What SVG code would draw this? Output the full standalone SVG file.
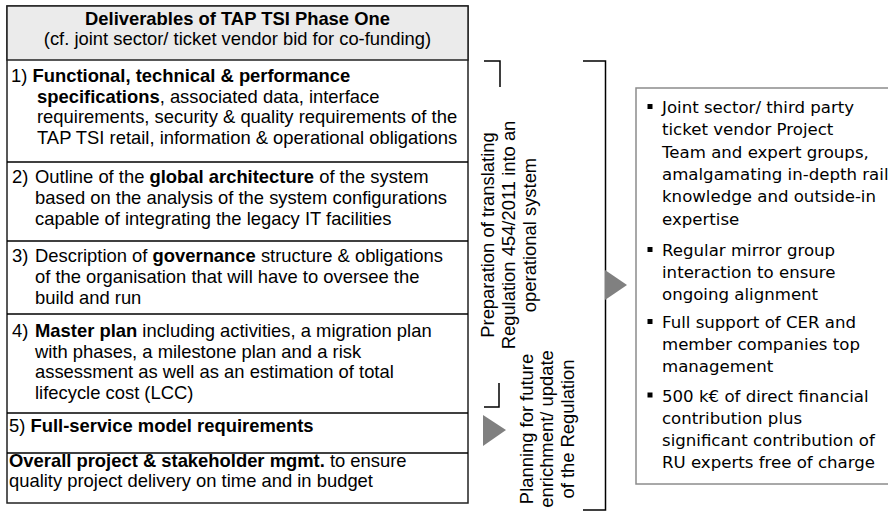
<svg xmlns="http://www.w3.org/2000/svg" width="888" height="512" viewBox="0 0 888 512">
<style>
.t{font-family:"Liberation Sans",Arial,sans-serif;font-size:18.4px;fill:#000}
.b{font-weight:bold}
.r{font-family:"DejaVu Sans",Verdana,sans-serif;font-size:16.6px;fill:#000}
.box{fill:#fff;stroke:#222;stroke-width:1.5}
.ln{fill:none;stroke:#000;stroke-width:1.5}
.tri{fill:#808080}
.bul{fill:#000}
</style>
<rect width="888" height="512" fill="#fff"/>
<g id="deliverables">
<rect x="7" y="6" width="461" height="497" class="box"/>
<rect x="7" y="6" width="461" height="54" fill="#ebebeb" stroke="#222" stroke-width="1.5"/>
<text class="t b" x="237.5" y="25" text-anchor="middle">Deliverables of TAP TSI Phase One</text>
<text class="t" x="237.5" y="44.5" text-anchor="middle">(cf. joint sector/ ticket vendor bid for co-funding)</text>
</g>
<g id="row1">
<text class="t" x="11" y="82">1) <tspan class="b">Functional, technical &amp; performance</tspan></text>
<text class="t" x="37" y="102.5"><tspan class="b">specifications</tspan>, associated data, interface</text>
<text class="t" x="37" y="123">requirements, security &amp; quality requirements of the</text>
<text class="t" x="37" y="143.5">TAP TSI retail, information &amp; operational obligations</text>
</g>
<g id="row2">
<line x1="7" y1="162" x2="468" y2="162" class="ln"/>
<text class="t" x="12" y="183">2)</text>
<text class="t" x="35" y="183">Outline of the <tspan class="b">global architecture</tspan> of the system</text>
<text class="t" x="35" y="204">based on the analysis of the system configurations</text>
<text class="t" x="35" y="225">capable of integrating the legacy IT facilities</text>
</g>
<g id="row3">
<line x1="7" y1="241" x2="468" y2="241" class="ln"/>
<text class="t" x="12" y="262">3)</text>
<text class="t" x="35" y="262">Description of <tspan class="b">governance</tspan> structure &amp; obligations</text>
<text class="t" x="35" y="283">of the organisation that will have to oversee the</text>
<text class="t" x="35" y="304">build and run</text>
</g>
<g id="row4">
<line x1="7" y1="314" x2="468" y2="314" class="ln"/>
<text class="t" x="12" y="337">4)</text>
<text class="t" x="35" y="337"><tspan class="b">Master plan</tspan> including activities, a migration plan</text>
<text class="t" x="35" y="357.5">with phases, a milestone plan and a risk</text>
<text class="t" x="35" y="378">assessment as well as an estimation of total</text>
<text class="t" x="35" y="398.5">lifecycle cost (LCC)</text>
</g>
<g id="row5">
<line x1="7" y1="413" x2="468" y2="413" class="ln"/>
<text class="t" x="9" y="432">5) <tspan class="b">Full-service model requirements</tspan></text>
</g>
<g id="row6">
<line x1="7" y1="453" x2="468" y2="453" class="ln"/>
<text class="t" x="9" y="467"><tspan class="b">Overall project &amp; stakeholder mgmt.</tspan> to ensure</text>
<text class="t" x="9" y="487">quality project delivery on time and in budget</text>
</g>
<g id="preparation">
<text class="t" text-anchor="middle" transform="translate(494 235) rotate(-90)">Preparation of translating</text>
<text class="t" text-anchor="middle" transform="translate(515 235) rotate(-90)">Regulation 454/2011 into an</text>
<text class="t" text-anchor="middle" transform="translate(536 235) rotate(-90)">operational system</text>
</g>
<g id="planning">
<text class="t" text-anchor="middle" transform="translate(533 429) rotate(-90)">Planning for future</text>
<text class="t" text-anchor="middle" transform="translate(553 429) rotate(-90)">enrichment/ update</text>
<text class="t" text-anchor="middle" transform="translate(574 429) rotate(-90)">of the Regulation</text>
</g>
<g id="resources">
<rect x="636" y="88" width="260" height="396" fill="#fff" stroke="#8c8c8c" stroke-width="1.5"/>
<rect x="647.5" y="104" width="5" height="5" class="bul"/>
<text class="r" x="662" y="113">Joint sector/ third party</text>
<text class="r" x="662" y="135.3">ticket vendor Project</text>
<text class="r" x="662" y="157.6">Team and expert groups,</text>
<text class="r" x="662" y="179.9">amalgamating in-depth rail</text>
<text class="r" x="662" y="202.2">knowledge and outside-in</text>
<text class="r" x="662" y="224.5">expertise</text>
<rect x="647.5" y="247" width="5" height="5" class="bul"/>
<text class="r" x="662" y="256">Regular mirror group</text>
<text class="r" x="662" y="278">interaction to ensure</text>
<text class="r" x="662" y="300">ongoing alignment</text>
<rect x="647.5" y="319" width="5" height="5" class="bul"/>
<text class="r" x="662" y="328">Full support of CER and</text>
<text class="r" x="662" y="350">member companies top</text>
<text class="r" x="662" y="372">management</text>
<rect x="647.5" y="392.5" width="5" height="5" class="bul"/>
<text class="r" x="662" y="401.5">500 k€ of direct financial</text>
<text class="r" x="662" y="423.5">contribution plus</text>
<text class="r" x="662" y="445.5">significant contribution of</text>
<text class="r" x="662" y="467.5">RU experts free of charge</text>
</g>
<g id="connectors">
<polyline points="484,61 500,61 500,87" class="ln"/>
<polyline points="499,383 499,407 484,407" class="ln"/>
<polygon points="483,415 506,430 483,446" class="tri"/>
<polyline points="583,61 605.5,61 605.5,510 583,510" class="ln"/>
<polygon points="605,270 627,285 605,300" class="tri"/>
</g>
</svg>
